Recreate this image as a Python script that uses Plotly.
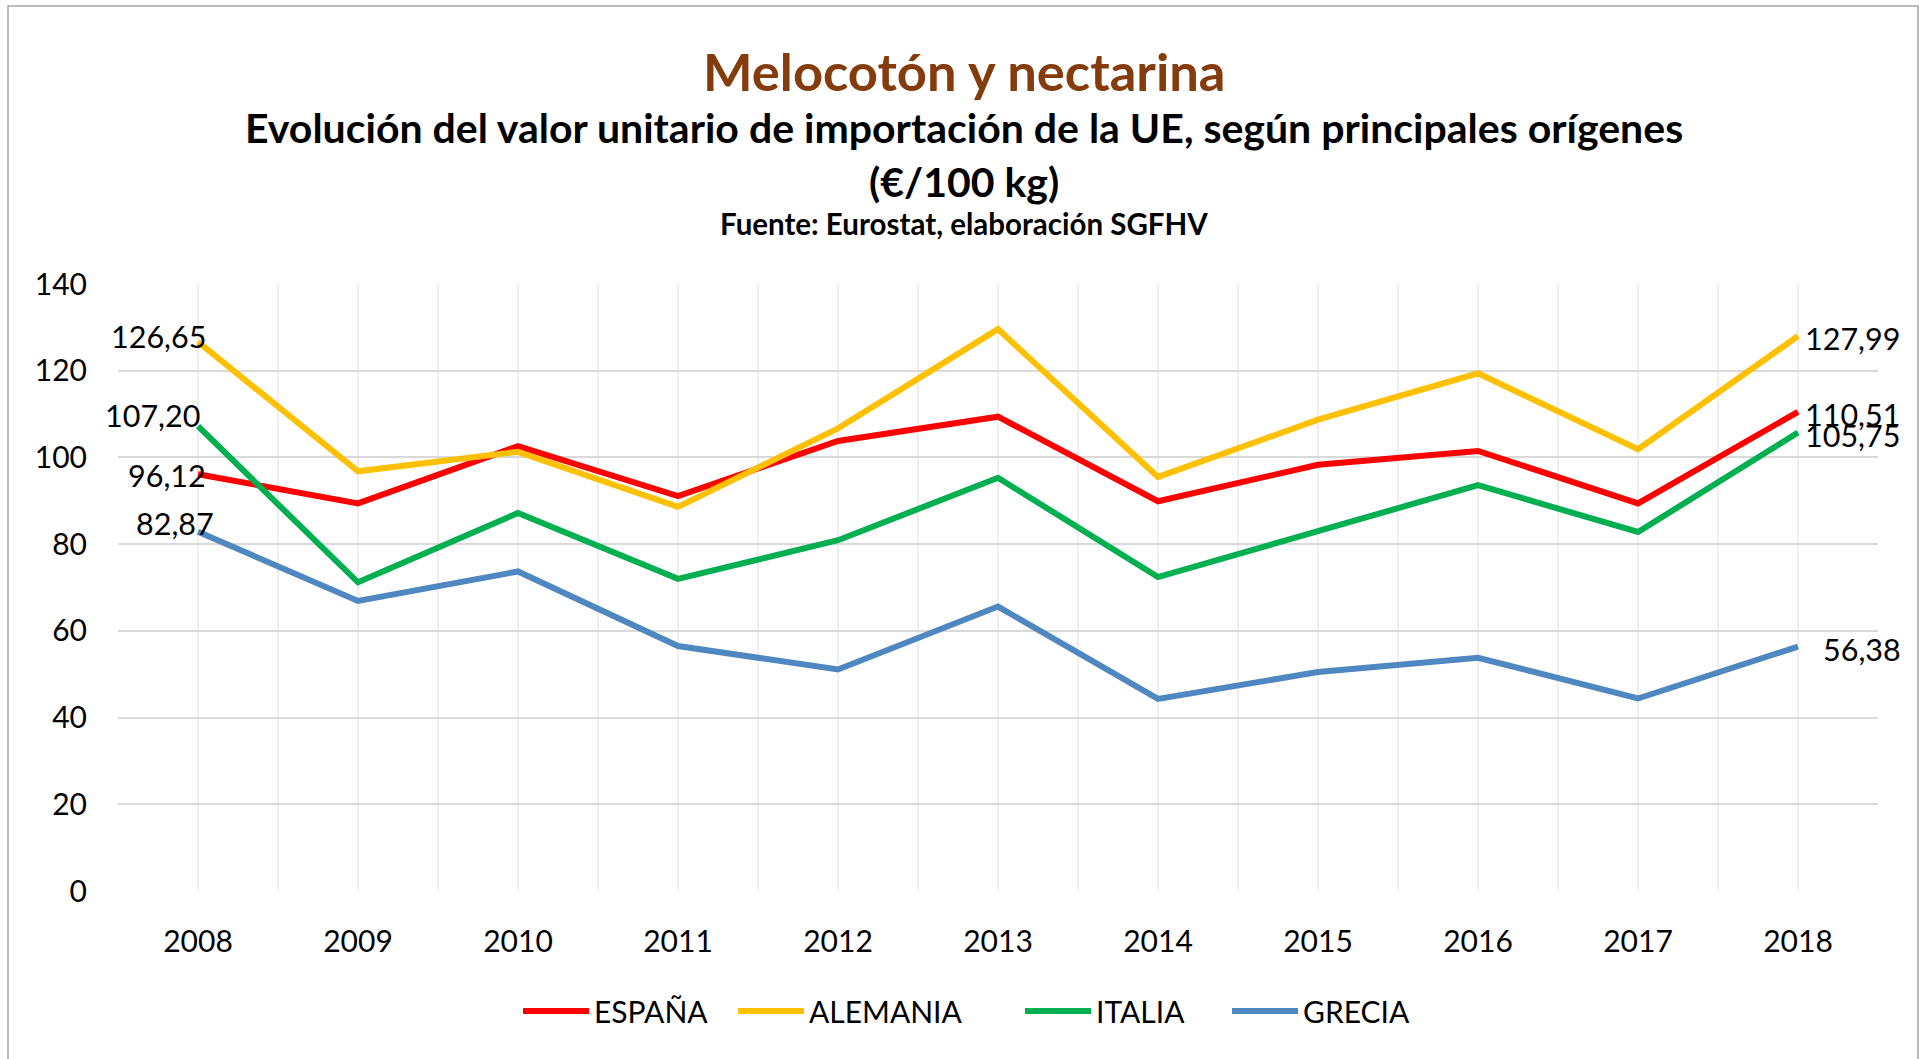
import plotly.graph_objects as go

# ---------------- data ----------------
years = [2008, 2009, 2010, 2011, 2012, 2013, 2014, 2015, 2016, 2017, 2018]
espana = [96.12, 89.4, 102.6, 91.1, 103.8, 109.4, 89.9, 98.3, 101.5, 89.4, 110.51]
alemania = [126.65, 96.8, 101.3, 88.6, 106.7, 129.6, 95.5, 108.7, 119.4, 101.9, 127.99]
italia = [107.20, 71.2, 87.2, 72.0, 80.9, 95.3, 72.4, 83.0, 93.6, 82.8, 105.75]
grecia = [82.87, 66.9, 73.7, 56.5, 51.1, 65.6, 44.3, 50.5, 53.8, 44.4, 56.38]
series_names = ["ESPAÑA", "ALEMANIA", "ITALIA", "GRECIA"]
y_ticks = [0, 20, 40, 60, 80, 100, 120, 140]

title = "Melocotón y nectarina"
subtitle1 = "Evolución del valor unitario de importación de la UE, según principales orígenes"
subtitle2 = "(€/100 kg)"
source = "Fuente: Eurostat, elaboración SGFHV"

# ---------------- styles ----------------
colors = ["#FF0000", "#FFC000", "#00B050", "#4F88C0"]
FONT = "Lato, 'Open Sans', sans-serif"
series = [espana, alemania, italia, grecia]

# label offsets (pixels) for first / last point labels
first_offsets = [(10, -1), (10, 6), (4, 11), (18, 9)]
last_offsets = [(104, -2), (104, -2), (104, -2), (105, -2)]
# legend entry left edges (page pixels)
legend_left_px = [518, 733, 1020, 1227]

W, H = 1927, 1059
ML, MR, MT, MB = 118, 49, 284, 168
PW = W - ML - MR
PH = H - MT - MB


def px2paper_x(px):
    return (px - ML) / PW


def px2paper_y(py):
    return (H - MB - py) / PH


def fmt(v):
    return f"{v:.2f}".replace(".", ",")


legend_ids = ["legend", "legend2", "legend3", "legend4"]

fig = go.Figure()
for name, vals, col, lid in zip(series_names, series, colors, legend_ids):
    fig.add_trace(go.Scatter(
        x=years, y=vals, name=name, mode="lines",
        line=dict(color=col, width=6),
        hoverinfo="skip", legend=lid,
    ))

annotations = []
for i, vals in enumerate(series):
    dx, dy = first_offsets[i]
    annotations.append(dict(
        x=years[0], y=vals[0], xref="x", yref="y", text=fmt(vals[0]),
        showarrow=False, xanchor="right", yanchor="middle",
        xshift=dx, yshift=dy, font=dict(family=FONT, size=30.5, color="#000000"),
    ))
    dx, dy = last_offsets[i]
    annotations.append(dict(
        x=years[-1], y=vals[-1], xref="x", yref="y", text=fmt(vals[-1]),
        showarrow=False, xanchor="right", yanchor="middle",
        xshift=dx, yshift=dy, font=dict(family=FONT, size=30.5, color="#000000"),
    ))

cx = px2paper_x(964)
annotations += [
    dict(x=cx, y=px2paper_y(70), xref="paper", yref="paper", text=f"<b>{title}</b>",
         showarrow=False, xanchor="center", yanchor="middle",
         font=dict(family=FONT, size=52.5, color="#843C0C")),
    dict(x=cx, y=px2paper_y(128), xref="paper", yref="paper", text=f"<b>{subtitle1}</b>",
         showarrow=False, xanchor="center", yanchor="middle",
         font=dict(family=FONT, size=41, color="#000000")),
    dict(x=cx, y=px2paper_y(181), xref="paper", yref="paper", text=f"<b>{subtitle2}</b>",
         showarrow=False, xanchor="center", yanchor="middle",
         font=dict(family=FONT, size=41, color="#000000")),
    dict(x=cx, y=px2paper_y(224), xref="paper", yref="paper", text=f"<b>{source}</b>",
         showarrow=False, xanchor="center", yanchor="middle",
         font=dict(family=FONT, size=29.5, color="#000000")),
]

legend_common = dict(
    orientation="h", xanchor="left",
    y=px2paper_y(1011), yanchor="middle",
    font=dict(family=FONT, size=30, color="#000000"),
    itemwidth=66, bgcolor="rgba(0,0,0,0)", borderwidth=0,
)
legend_layouts = {
    lid: dict(legend_common, x=px2paper_x(lx))
    for lid, lx in zip(legend_ids, legend_left_px)
}

fig.update_layout(
    width=W, height=H,
    margin=dict(l=ML, r=MR, t=MT, b=MB, autoexpand=False),
    paper_bgcolor="#FFFFFF", plot_bgcolor="#FFFFFF",
    font=dict(family=FONT, size=30, color="#000000"),
    annotations=annotations,
    showlegend=True,
    shapes=[dict(
        type="rect", xref="paper", yref="paper",
        x0=px2paper_x(8), x1=px2paper_x(1918),
        y0=px2paper_y(1070), y1=px2paper_y(6),
        line=dict(color="#A6A6A6", width=1.5), fillcolor="rgba(0,0,0,0)", layer="below",
    )],
    **legend_layouts,
)

fig.update_xaxes(
    range=[years[0] - 0.5, years[-1] + 0.5],
    tickmode="array", tickvals=years, ticktext=[str(y) for y in years],
    showgrid=True, gridcolor="#EEEEEE", gridwidth=2,
    minor=dict(tick0=years[0] - 0.5, dtick=1, showgrid=True, gridcolor="#EEEEEE", gridwidth=2),
    zeroline=False, showline=False, ticks="",
    ticklabelstandoff=30,
    tickfont=dict(family=FONT, size=30, color="#000000"),
)
fig.update_yaxes(
    range=[0, 140], tickmode="array", tickvals=y_ticks,
    showgrid=True, gridcolor="#D9D9D9", gridwidth=2,
    zeroline=False, showline=False, ticks="",
    ticklabelstandoff=30,
    tickfont=dict(family=FONT, size=30, color="#000000"),
)

fig.write_html(
    "out.html",
    config={"displayModeBar": False},
    post_script="document.body.style.margin='0';document.body.style.padding='0';",
)
